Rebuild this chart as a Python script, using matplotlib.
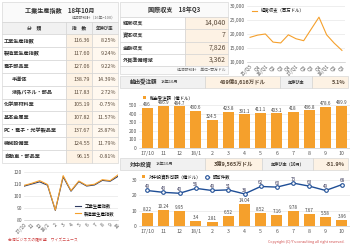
# -*- coding: utf-8 -*-

import numpy as np
import matplotlib.pyplot as plt
from matplotlib.patches import Rectangle

plt.rcParams['font.family'] = ['Noto Sans CJK JP', 'DejaVu Sans']

# --- data ---
ipi_names = ['工業生産指数', '製造業生産指数', '電子部品業', '半導体', '液晶パネル・部品',
             '化学原材料業', '基本金属業', 'PC・電子・光学製品業', '機械設備業', '自動車・部品業']
ipi_index = ['116.36', '117.60', '127.06', '138.79', '117.83',
             '105.19', '107.82', '137.67', '124.55', '96.15']
ipi_yoy = ['8.25%', '9.24%', '9.22%', '14.39%', '2.72%',
           '-0.75%', '11.57%', '23.87%', '11.79%', '-0.81%']
sub_items = ['半導体', '液晶パネル・部品']

months = ['17/10', '11', '12', '18/1', '2', '3', '4', '5', '6', '7', '8', '9', '10']
ipi_total = [108.2, 110.0, 111.8, 109.0, 88.0, 116.0, 104.0, 112.0, 108.3, 109.2, 113.0, 112.3, 116.36]
ipi_mfg = [108.8, 110.6, 112.8, 109.6, 88.3, 117.0, 104.5, 112.5, 108.8, 109.8, 113.6, 112.8, 117.60]

bop_names = ['経常収支', '資本収支', '金融収支', '外貨準備増減']
bop_values = ['14,040', '7', '7,826', '3,362']

quarters = ['15/Q3', 'Q4', '16/Q1', 'Q2', 'Q3', 'Q4', '17/Q1', 'Q2', 'Q3', 'Q4', '18/Q1', 'Q2', 'Q3']
current_account = [18700, 19500, 19900, 17000, 16700, 19600, 18200, 17500, 21700, 25900, 19600, 16600, 14040]

export_orders = [466, 486.9, 484.7, 430.6, 324.5, 423.8, 391.1, 411.1, 403.1, 418, 436.8, 478.6, 489.9]
china_inv = [8.22, 10.24, 9.95, 3.4, 2.81, 6.52, 14.04, 8.52, 7.16, 9.78, 7.67, 5.58, 3.96]
china_cases = [49, 43, 40, 56, 49, 51, 38, 62, 60, 73, 63, 49, 68]

ORANGE = '#F5A02C'
NAVY = '#2E3B63'
BLUE = '#1F4E96'
CREAM = '#FDF2E4'
GRAY = '#F1F1F1'
LINE = '#D0D0D0'
TXT = '#333333'
W, H = 350, 246

fig = plt.figure(figsize=(W / 100, H / 100), dpi=100)
fig.patch.set_facecolor('white')

base = fig.add_axes([0, 0, 1, 1])
base.set_xlim(0, W)
base.set_ylim(H, 0)
base.axis('off')


def cell(x0, y0, x1, y1, color='white'):
    base.add_patch(Rectangle((x0, y0), x1 - x0, y1 - y0, facecolor=color,
                             edgecolor=LINE, linewidth=0.4))


def px_axes(x0, y0, x1, y1):
    ax = fig.add_axes([x0 / W, 1 - y1 / H, (x1 - x0) / W, (y1 - y0) / H])
    ax.set_facecolor('none')
    return ax


def style_axes(ax):
    for s in ax.spines.values():
        s.set_visible(False)
    ax.spines['bottom'].set_visible(True)
    ax.spines['bottom'].set_color('#BBBBBB')
    ax.spines['bottom'].set_linewidth(0.4)
    ax.tick_params(labelsize=3.6, length=0, pad=1.5, colors='#555555')
    ax.grid(axis='y', color='#E2E2E2', linewidth=0.4)
    ax.set_axisbelow(True)


# --- 工業生産指数 table ---
cell(2, 2, 118, 22, '#FAFAFA')
base.text(60, 10, '工業生産指数　18年10月', ha='center', va='center', fontsize=4.4,
          fontweight='bold', color=TXT)
base.text(116, 17.5, '経済部統計（16年=100）', ha='right', va='center', fontsize=2.8, color='#666666')
cell(2, 22, 66, 34, GRAY)
cell(66, 22, 92, 34, GRAY)
cell(92, 22, 118, 34, GRAY)
base.text(34, 28, '分　類', ha='center', va='center', fontsize=3.4, fontweight='bold', color=TXT)
base.text(79, 28, '指　数', ha='center', va='center', fontsize=3.4, fontweight='bold', color=TXT)
base.text(105, 28, '年伸び率', ha='center', va='center', fontsize=3.2, fontweight='bold', color=TXT)
rh = 12.9
for i, (nm, iv, yy) in enumerate(zip(ipi_names, ipi_index, ipi_yoy)):
    y0 = 34 + i * rh
    cell(2, y0, 66, y0 + rh)
    cell(66, y0, 92, y0 + rh, CREAM)
    cell(92, y0, 118, y0 + rh, '#FFF8EF')
    xt = 12 if nm in sub_items else 4
    base.text(xt, y0 + rh / 2, nm, ha='left', va='center', fontsize=3.7,
              fontweight='bold', color=TXT)
    base.text(90, y0 + rh / 2, iv, ha='right', va='center', fontsize=3.9, color='#5A4A3A')
    base.text(116.5, y0 + rh / 2, yy, ha='right', va='center', fontsize=3.9, color='#5A4A3A')

# --- 工業生産指数 line chart ---
ax1 = px_axes(24, 172, 118, 220)
x = np.arange(len(months))
ax1.plot(x, ipi_total, color=NAVY, linewidth=0.8, label='工業生産指数')
ax1.plot(x, ipi_mfg, color=ORANGE, linewidth=0.8, label='製造業生産指数')
ax1.set_xlim(0, len(months) - 1)
ax1.set_ylim(80, 120)
ax1.set_yticks([80, 90, 100, 110, 120])
ax1.set_xticks(x)
ax1.set_xticklabels(months, rotation=45, ha='right', rotation_mode='anchor')
style_axes(ax1)
ax1.legend(loc='lower right', fontsize=3.2, frameon=False, handlelength=1.2,
           borderaxespad=0.3, labelspacing=0.5, bbox_to_anchor=(1.0, 0.02))

# --- 国際収支 table ---
cell(120, 2, 228, 17, '#FAFAFA')
base.text(174, 9.5, '国際収支　18年Q3', ha='center', va='center', fontsize=4.4,
          fontweight='bold', color=TXT)
bh = 12.3
for i, (nm, v) in enumerate(zip(bop_names, bop_values)):
    y0 = 17 + i * bh
    cell(120, y0, 185, y0 + bh)
    cell(185, y0, 228, y0 + bh, CREAM)
    base.text(123, y0 + bh / 2, nm, ha='left', va='center', fontsize=3.7,
              fontweight='bold', color=TXT)
    base.text(226, y0 + bh / 2, v, ha='right', va='center', fontsize=5.0, color='#5A4A3A')
cell(120, 17 + 4 * bh, 228, 74, '#FAFAFA')
base.text(226, 70, '経済部統計　単位=百万ドル', ha='right', va='center', fontsize=2.8, color='#666666')

# --- 経常収支 line chart ---
ax2 = px_axes(247, 5.7, 345, 61.7)
xq = np.arange(len(quarters))
ax2.plot(xq, current_account, color=ORANGE, linewidth=0.8, label='経常収支（百万ドル）')
ax2.set_xlim(-0.4, len(quarters) - 0.6)
ax2.set_ylim(10000, 30000)
ax2.set_yticks([10000, 15000, 20000, 25000, 30000])
ax2.set_yticklabels(['{:,}'.format(v) for v in [10000, 15000, 20000, 25000, 30000]])
ax2.set_xticks(xq)
ax2.set_xticklabels(quarters, rotation=45, ha='right', rotation_mode='anchor')
style_axes(ax2)
ax2.legend(loc='upper left', fontsize=3.2, frameon=False, handlelength=1.2,
           borderaxespad=0.2, bbox_to_anchor=(0.02, 1.0))


def header_row(y0, y1, title, date, amount, yoy_label, yoy, splits):
    a, b, c = splits
    cell(120, y0, a, y1, GRAY)
    cell(a, y0, b, y1, CREAM)
    cell(b, y0, c, y1, GRAY)
    cell(c, y0, 348, y1, CREAM)
    ym = (y0 + y1) / 2
    base.text(130, ym, title, ha='left', va='center', fontsize=4.0, fontweight='bold', color=TXT)
    base.text(130 + len(title) * 5.6 + 3, ym, date, ha='left', va='center', fontsize=3.0, color=TXT)
    base.text((a + b) / 2, ym, amount, ha='center', va='center', fontsize=3.9,
              fontweight='bold', color='#5A4A3A')
    base.text((b + c) / 2, ym, yoy_label, ha='center', va='center', fontsize=3.0,
              fontweight='bold', color=TXT)
    base.text(345, ym, yoy, ha='right', va='center', fontsize=4.0, fontweight='bold', color='#5A4A3A')


# --- 輸出受注額 ---
header_row(76, 88, '輸出受注額', '18年10月', '489億8,616万ドル', '年伸び率', '5.1%', (205, 280, 312))
ax3 = px_axes(139, 105, 350, 148)
xm = np.arange(len(months))
ax3.bar(xm, export_orders, width=0.68, color=ORANGE, label='輸出受注額（億ドル）')
for xi, v in zip(xm, export_orders):
    ax3.text(xi, v + 8, '{:g}'.format(v), ha='center', va='bottom', fontsize=3.3, color='#444444')
ax3.set_xlim(-0.5, len(months) - 0.5)
ax3.set_ylim(0, 500)
ax3.set_yticks([0, 100, 200, 300, 400, 500])
ax3.set_xticks(xm)
ax3.set_xticklabels(months)
style_axes(ax3)
ax3.tick_params(axis='x', labelsize=3.8, pad=2)
ax3.legend(loc='lower left', fontsize=3.2, frameon=False, handlelength=0.8, handleheight=0.8,
           borderaxespad=0, bbox_to_anchor=(0.01, 1.08))

# --- 対中投資 ---
header_row(158, 170, '対中投資', '18年10月', '3億9,565万ドル', '年伸び率（10月）', '-51.9%', (205, 262, 313))
ax4 = px_axes(139, 180, 350, 226)
ax4.bar(xm, china_inv, width=0.68, color=ORANGE, label='対中投資許可額（億ドル）')
for xi, v in zip(xm, china_inv):
    ax4.text(xi, v + 0.7, '{:g}'.format(v), ha='center', va='bottom', fontsize=3.3, color='#444444')
ax4.set_xlim(-0.5, len(months) - 0.5)
ax4.set_ylim(0, 30)
ax4.set_yticks([0, 10, 20, 30])
ax4.set_xticks(xm)
ax4.set_xticklabels(months)
style_axes(ax4)
ax4.tick_params(axis='x', labelsize=3.8, pad=2)
ax5 = ax4.twinx()
ax5.plot(xm, china_cases, color=BLUE, linewidth=1.0, marker='o', markersize=2.6,
         markerfacecolor='white', markeredgewidth=0.8, label='認可件数')
for xi, v in zip(xm, china_cases):
    ax5.text(xi, v + 4, str(v), ha='center', va='bottom', fontsize=3.3, color='#333355')
ax5.set_ylim(-66, 83)
ax5.axis('off')
h1, l1 = ax4.get_legend_handles_labels()
h2, l2 = ax5.get_legend_handles_labels()
leg = ax5.legend(h1 + h2, l1 + l2, loc='center left', fontsize=3.2, frameon=True, ncol=2,
                 handlelength=0.8, handleheight=0.8, columnspacing=1.0, borderpad=0.1,
                 borderaxespad=0, bbox_to_anchor=(0.01, 1.07))
leg.get_frame().set_facecolor('white')
leg.get_frame().set_edgecolor('none')

# --- footers ---
base.text(8, 240, '台湾ビジネスの羅針盤　ワイズニュース', ha='left', va='center', fontsize=2.8, color='#D04848')
base.text(345, 242, "Copyright (C) Y's consulting all right reserved.", ha='right', va='center',
          fontsize=2.6, color='#D04848')

fig.savefig('out.png', dpi=100)
